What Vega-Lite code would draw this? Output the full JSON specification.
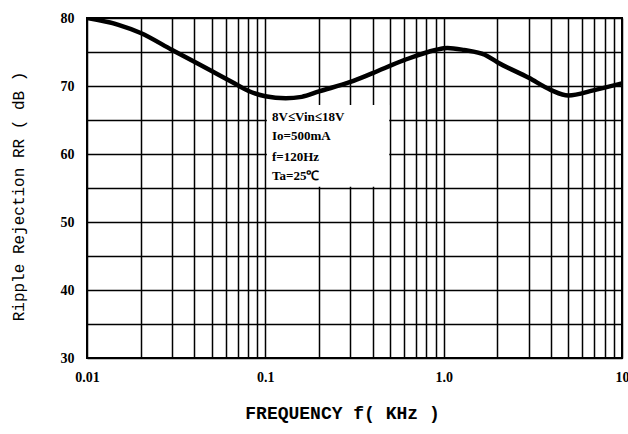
{
  "$schema": "https://vega.github.io/schema/vega-lite/v6.json",
  "width": 535,
  "height": 340,
  "autosize": {"type": "none"},
  "padding": {"left": 87, "top": 18, "right": 6, "bottom": 76},
  "background": "white",
  "config": {
    "view": {"stroke": "black", "strokeWidth": 2},
    "axis": {
      "grid": true, "gridColor": "black", "gridWidth": 1.5, "gridOpacity": 1,
      "domain": false, "ticks": false,
      "labelFont": "Liberation Serif", "labelFontWeight": "bold", "labelFontSize": 14, "labelColor": "black",
      "titleFont": "Liberation Mono", "titleColor": "black"
    }
  },
  "datasets": {
    "curve": [
      {"f": 0.01, "rr": 80.0},
      {"f": 0.015, "rr": 79.0},
      {"f": 0.02, "rr": 77.8},
      {"f": 0.03, "rr": 75.3},
      {"f": 0.05, "rr": 72.2},
      {"f": 0.065, "rr": 70.6},
      {"f": 0.08, "rr": 69.3},
      {"f": 0.1, "rr": 68.5},
      {"f": 0.13, "rr": 68.2},
      {"f": 0.16, "rr": 68.4},
      {"f": 0.2, "rr": 69.2},
      {"f": 0.3, "rr": 70.6},
      {"f": 0.4, "rr": 71.9},
      {"f": 0.6, "rr": 73.8},
      {"f": 0.9, "rr": 75.3},
      {"f": 1.05, "rr": 75.6},
      {"f": 1.3, "rr": 75.3},
      {"f": 1.7, "rr": 74.6},
      {"f": 2.0, "rr": 73.5},
      {"f": 3.0, "rr": 71.2},
      {"f": 4.0, "rr": 69.4},
      {"f": 5.0, "rr": 68.6},
      {"f": 7.0, "rr": 69.4},
      {"f": 10.0, "rr": 70.4}
    ],
    "box": [{"f": 0.102, "f2": 0.495, "rr": 55.2, "rr2": 67.2}],
    "notes": [
      {"f": 0.109, "rr": 65.4, "t": "8V≤Vin≤18V"},
      {"f": 0.109, "rr": 62.6, "t": "Io=500mA"},
      {"f": 0.109, "rr": 59.6, "t": "f=120Hz"},
      {"f": 0.109, "rr": 56.8, "t": "Ta=25℃"}
    ]
  },
  "encoding": {
    "x": {
      "field": "f", "type": "quantitative",
      "scale": {"type": "log", "domain": [0.01, 10], "nice": false},
      "axis": {
        "values": [0.01,0.02,0.03,0.04,0.05,0.06,0.07,0.08,0.09,0.1,0.2,0.3,0.4,0.5,0.6,0.7,0.8,0.9,1,2,3,4,5,6,7,8,9,10],
        "labelExpr": "datum.value == 0.01 ? '0.01' : datum.value == 0.1 ? '0.1' : datum.value == 1 ? '1.0' : datum.value == 10 ? '10' : ''",
        "labelPadding": 12, "labelBaseline": "top", "labelFlush": false, "labelOverlap": false,
        "title": "FREQUENCY f( KHz )",
        "titleFontSize": 18, "titleFontWeight": "bold",
        "titleX": 255, "titleY": 55, "titleBaseline": "middle", "titleAlign": "center"
      }
    },
    "y": {
      "field": "rr", "type": "quantitative",
      "scale": {"domain": [30, 80], "nice": false, "zero": false},
      "axis": {
        "values": [30,35,40,45,50,55,60,65,70,75,80],
        "labelExpr": "datum.value % 10 == 0 ? datum.label : ''",
        "labelPadding": 13, "labelOverlap": false,
        "title": "Ripple Rejection  RR ( dB )",
        "titleFontSize": 16, "titleFontWeight": "normal",
        "titleX": -69, "titleY": 178, "titleAngle": -90, "titleAlign": "center", "titleBaseline": "middle"
      }
    }
  },
  "layer": [
    {
      "data": {"name": "curve"},
      "mark": {"type": "line", "color": "black", "strokeWidth": 4.5, "interpolate": "monotone", "clip": true}
    },
    {
      "data": {"name": "box"},
      "mark": {"type": "rect", "color": "white", "opacity": 1},
      "encoding": {
        "x2": {"field": "f2"},
        "y2": {"field": "rr2"}
      }
    },
    {
      "data": {"name": "notes"},
      "mark": {"type": "text", "align": "left", "baseline": "middle", "font": "Liberation Serif", "fontWeight": "bold", "fontSize": 13, "color": "black"},
      "encoding": {
        "text": {"field": "t"}
      }
    }
  ]
}
